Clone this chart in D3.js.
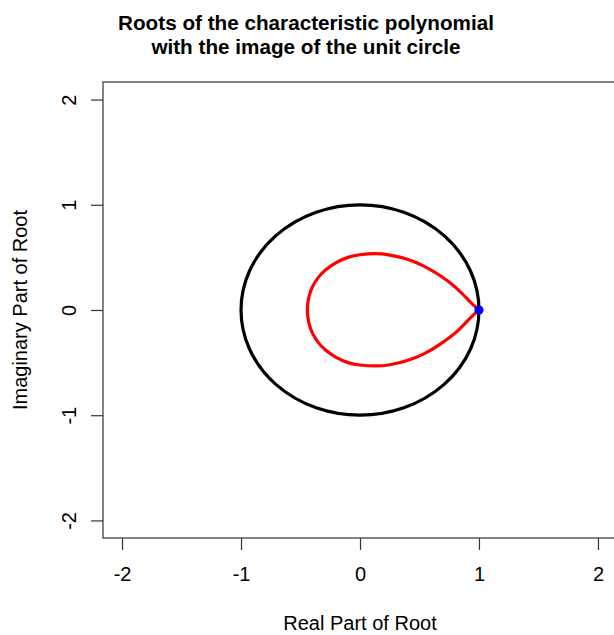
<!DOCTYPE html>
<html>
<head>
<meta charset="utf-8">
<script src="https://cdn.jsdelivr.net/npm/d3@7"></script>
<style>
	body { margin: 0; background: #fff; }
	svg { display: block; }
</style>
</head>
<body>
<script>
// Chart values
const titleLines = ["Roots of the characteristic polynomial", "with the image of the unit circle"];
const xLabel = "Real Part of Root";
const yLabel = "Imaginary Part of Root";
const xTicks = [-2, -1, 0, 1, 2];
const yTicks = [-2, -1, 0, 1, 2];

// image of the unit circle, starting and ending at 1+0i
const imageRe = [1.0, 0.924, 0.813, 0.672, 0.532, 0.392, 0.252, 0.13, 0.0, -0.1, -0.2, -0.29, -0.35, -0.4, -0.43, -0.443,
	-0.43, -0.4, -0.35, -0.29, -0.2, -0.1, 0.0, 0.13, 0.252, 0.392, 0.532, 0.672, 0.813, 0.924, 1.0];
const imageIm = [0.0, 0.08, 0.206, 0.328, 0.42, 0.485, 0.522, 0.535, 0.525, 0.5, 0.45, 0.38, 0.31, 0.22, 0.12, 0.0,
	-0.12, -0.22, -0.31, -0.38, -0.45, -0.5, -0.523, -0.532, -0.52, -0.483, -0.42, -0.326, -0.206, -0.079, 0.0];

// roots of the characteristic polynomial
const rootRe = [1];
const rootIm = [0];

const unitRadius = 1;

const width = 614, height = 635;
const margin = { left: 103, right: -3, top: 82, bottom: 97 };

const x = d3.scaleLinear()
	.domain([-2.16, 2.16])
	.range([margin.left, width - margin.right]);

const y = d3.scaleLinear()
	.domain([-2.167, 2.167])
	.range([height - margin.bottom, margin.top]);

const svg = d3.select("body").append("svg")
	.attr("width", width)
	.attr("height", height)
	.attr("font-family", "'Liberation Sans', Arial, sans-serif");

// Title
svg.append("g")
	.selectAll("text")
	.data(titleLines)
	.join("text")
	.attr("x", 306)
	.attr("y", (d, i) => 30 + i * 24)
	.attr("text-anchor", "middle")
	.attr("font-weight", "bold")
	.attr("font-size", "20.7px")
	.attr("fill", "#000")
	.text((d) => d);

// Plot box
svg.append("rect")
	.attr("x", margin.left)
	.attr("y", margin.top)
	.attr("width", width - margin.right - margin.left)
	.attr("height", height - margin.bottom - margin.top)
	.attr("fill", "none")
	.attr("stroke", "#333")
	.attr("stroke-width", 1.2);

// R style labels use a plain hyphen for negatives
const tickFmt = (d) => String(d);

// Bottom axis
const xAxis = svg.append("g")
	.attr("transform", `translate(0,${height - margin.bottom})`)
	.call(d3.axisBottom(x).tickValues(xTicks).tickSize(12).tickPadding(17).tickFormat(tickFmt))
	.call((g) => g.select(".domain").remove());
xAxis.selectAll(".tick line").attr("stroke", "#333").attr("stroke-width", 1.2);
xAxis.selectAll(".tick text")
	.attr("font-size", "20px")
	.attr("font-family", "'Liberation Sans', Arial, sans-serif")
	.attr("fill", "#000");

// Left axis
const yAxis = svg.append("g")
	.attr("transform", `translate(${margin.left},0)`)
	.call(d3.axisLeft(y).tickValues(yTicks).tickSize(12).tickFormat(tickFmt))
	.call((g) => g.select(".domain").remove());
yAxis.selectAll(".tick line").attr("stroke", "#333").attr("stroke-width", 1.2);
yAxis.selectAll(".tick text")
	.attr("x", null)
	.attr("dy", null)
	.attr("transform", "translate(-27,0) rotate(-90)")
	.attr("text-anchor", "middle")
	.attr("font-size", "20px")
	.attr("font-family", "'Liberation Sans', Arial, sans-serif")
	.attr("fill", "#000");

// Axis titles
svg.append("text")
	.attr("x", x(0))
	.attr("y", 630)
	.attr("text-anchor", "middle")
	.attr("font-size", "20px")
	.text(xLabel);

svg.append("text")
	.attr("transform", `translate(27,${y(0)}) rotate(-90)`)
	.attr("text-anchor", "middle")
	.attr("font-size", "20px")
	.text(yLabel);

// Unit circle
svg.append("ellipse")
	.attr("cx", x(0))
	.attr("cy", y(0))
	.attr("rx", x(unitRadius) - x(0))
	.attr("ry", y(0) - y(unitRadius))
	.attr("fill", "none")
	.attr("stroke", "#000")
	.attr("stroke-width", 3.2);

// Image of the unit circle
const imagePts = imageRe.map((re, i) => [re, imageIm[i]]);
svg.append("path")
	.datum(imagePts)
	.attr("fill", "none")
	.attr("stroke", "#ff0000")
	.attr("stroke-width", 3.2)
	.attr("stroke-linejoin", "round")
	.attr("d", d3.line().x((d) => x(d[0])).y((d) => y(d[1])).curve(d3.curveNatural));

// Roots
svg.append("g")
	.selectAll("circle")
	.data(rootRe.map((re, i) => [re, rootIm[i]]))
	.join("circle")
	.attr("cx", (d) => x(d[0]))
	.attr("cy", (d) => y(d[1]))
	.attr("r", 4.6)
	.attr("fill", "#0000ff");
</script>
</body>
</html>
